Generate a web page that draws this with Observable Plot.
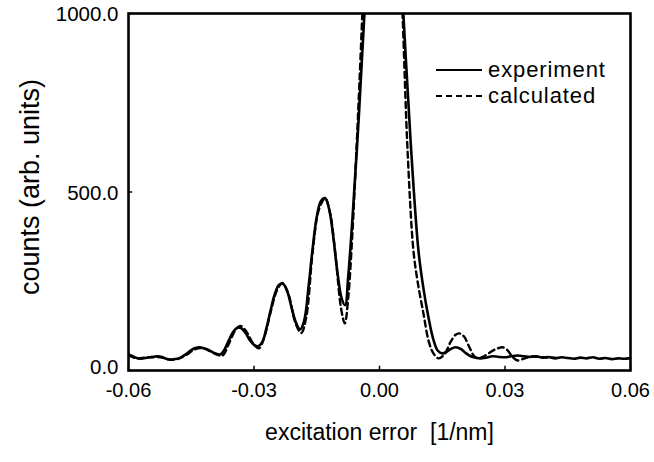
<!DOCTYPE html>
<html>
<head>
<meta charset="utf-8">
<script src="https://cdn.jsdelivr.net/npm/d3@7"></script>
<script src="https://cdn.jsdelivr.net/npm/@observablehq/plot@0.6"></script>
<style>
  html, body { margin: 0; padding: 0; background: #fff; }
  #wrap { position: relative; width: 654px; height: 462px; font-family: "Liberation Sans", Arial, sans-serif; }
  #legend { position: absolute; left: 436px; top: 57px; font-size: 22px; color: #000; letter-spacing: 0.9px; }
  #legend .row { display: flex; align-items: center; height: 26px; }
  #legend svg { width: 46px; height: 10px; margin-right: 6px; }
</style>
</head>
<body>
<div id="wrap">
  <div id="chart"></div>
  <div id="legend"></div>
</div>
<script>
// ---- data ----
const expX = [-0.0600,-0.0590,-0.0580,-0.0570,-0.0560,-0.0550,-0.0540,-0.0530,-0.0520,-0.0510,-0.0500,-0.0490,-0.0480,-0.0470,-0.0460,-0.0450,-0.0440,-0.0430,-0.0420,-0.0410,-0.0400,-0.0390,-0.0380,-0.0370,-0.0360,-0.0350,-0.0340,-0.0330,-0.0320,-0.0310,-0.0300,-0.0290,-0.0280,-0.0270,-0.0260,-0.0250,-0.0240,-0.0230,-0.0220,-0.0210,-0.0200,-0.0190,-0.0180,-0.0170,-0.0160,-0.0150,-0.0140,-0.0130,-0.0120,-0.0110,-0.0100,-0.0090,-0.0082,-0.0075,-0.0065,-0.0050,-0.0036,-0.0020,0.0010,0.0040,0.0057,0.0075,0.0093,0.0105,0.0117,0.0128,0.0139,0.0150,0.0160,0.0170,0.0182,0.0195,0.0205,0.0218,0.0230,0.0241,0.0255,0.0270,0.0285,0.0300,0.0315,0.0330,0.0345,0.0360,0.0375,0.0390,0.0405,0.0420,0.0435,0.0450,0.0465,0.0480,0.0495,0.0510,0.0525,0.0540,0.0555,0.0570,0.0585,0.0600];
const expY = [45,40,35,33,35,37,38,40,38,33,31,32,34,40,48,57,63,65,62,58,52,47,45,60,85,108,120,118,105,85,72,68,80,120,170,215,240,242,220,175,135,115,140,230,340,430,475,483,450,370,270,200,183,260,420,700,1000,1350,1700,1350,1000,630,337,230,149,90,56,48,52,60,65,60,50,40,36,34,36,40,38,37,40,42,40,38,40,36,38,34,37,35,33,36,34,37,33,35,32,34,33,35,33];

const calX = [-0.0600,-0.0580,-0.0560,-0.0540,-0.0520,-0.0500,-0.0480,-0.0460,-0.0440,-0.0425,-0.0410,-0.0390,-0.0375,-0.0360,-0.0345,-0.0333,-0.0320,-0.0300,-0.0288,-0.0275,-0.0260,-0.0245,-0.0232,-0.0218,-0.0200,-0.0187,-0.0175,-0.0160,-0.0145,-0.0130,-0.0118,-0.0105,-0.0092,-0.0083,-0.0075,-0.0065,-0.0055,-0.0041,-0.0025,0.0008,0.0040,0.0055,0.0067,0.0081,0.0091,0.0105,0.0118,0.0129,0.0141,0.0155,0.0170,0.0182,0.0191,0.0202,0.0215,0.0225,0.0234,0.0250,0.0270,0.0285,0.0294,0.0305,0.0318,0.0330,0.0345,0.0361,0.0380,0.0400,0.0420];
const calY = [42,34,36,38,36,30,33,45,60,63,57,45,42,75,112,125,112,72,62,95,165,225,245,215,130,105,150,330,450,482,440,320,175,132,200,380,620,1000,1500,2000,1400,1000,618,337,250,160,80,48,34,45,80,100,104,95,65,42,34,40,55,63,65,58,38,28,33,39,38,36,36];

const xTicks = [-0.06, -0.03, 0.00, 0.03, 0.06];
const yTicks = [0, 500, 1000];
const seriesNames = ["experiment", "calculated"];
const xLabel = "excitation error\u00a0\u00a0[1/nm]";
const yLabel = "counts (arb. units)";

const experiment = expX.map((x, i) => ({x, y: expY[i]}));
const calculated = calX.map((x, i) => ({x, y: calY[i]}));

const font = "'Liberation Sans', Arial, sans-serif";
const dash = "6,4";
const fmtX = d => d3.format(".2f")(d).replace("\u2212", "-");
const fmtY = d => d3.format(".1f")(d).replace("\u2212", "-");
const yAxisOpts = {tickSize: 0, tickPadding: 10, tickFormat: fmtY, fontSize: 20.5, label: null};

const chart = Plot.plot({
  width: 654,
  height: 462,
  marginLeft: 128,
  marginRight: 24,
  marginTop: 13,
  marginBottom: 92,
  style: {fontFamily: font, color: "#000", background: "#fff", overflow: "visible"},
  x: {domain: [-0.06, 0.06]},
  y: {domain: [0, 1000]},
  marks: [
    Plot.line(calculated, {x: "x", y: "y", stroke: "#000", strokeWidth: 2.4, strokeDasharray: dash, clip: true, curve: "catmull-rom"}),
    Plot.line(experiment, {x: "x", y: "y", stroke: "#000", strokeWidth: 2.6, clip: true, curve: "catmull-rom"}),
    Plot.ruleX(xTicks, {x: d => d, y1: 0, y2: 12, stroke: "#000", strokeWidth: 1.5}),
    Plot.ruleY(yTicks, {y: d => d, x1: -0.06, x2: -0.059, stroke: "#000", strokeWidth: 1.5}),
    Plot.frame({stroke: "#000", strokeWidth: 2.6}),
    Plot.axisX(xTicks, {tickSize: 0, tickPadding: 12, tickFormat: fmtX, fontSize: 20, label: null}),
    Plot.axisY(yTicks.filter(d => d > 0), {...yAxisOpts, dy: 1}),
    Plot.axisY(yTicks.filter(d => d === 0), {...yAxisOpts, dy: -3}),
    Plot.text([xLabel], {frameAnchor: "bottom", dy: 69, fontSize: 23, letterSpacing: 0.3, text: d => d}),
    Plot.text([yLabel], {frameAnchor: "left", textAnchor: "middle", dx: -98, dy: -5, rotate: -90, fontSize: 27, letterSpacing: 1, text: d => d})
  ]
});
document.getElementById("chart").appendChild(chart);

// legend
const legend = document.getElementById("legend");
seriesNames.forEach((name, i) => {
  const row = document.createElement("div");
  row.className = "row";
  row.innerHTML = `<svg viewBox="0 0 46 10"><line x1="0" y1="5" x2="46" y2="5" stroke="#000" stroke-width="2" ${i === 1 ? `stroke-dasharray="${dash}"` : ""}/></svg><span>${name}</span>`;
  legend.appendChild(row);
});
</script>
</body>
</html>
